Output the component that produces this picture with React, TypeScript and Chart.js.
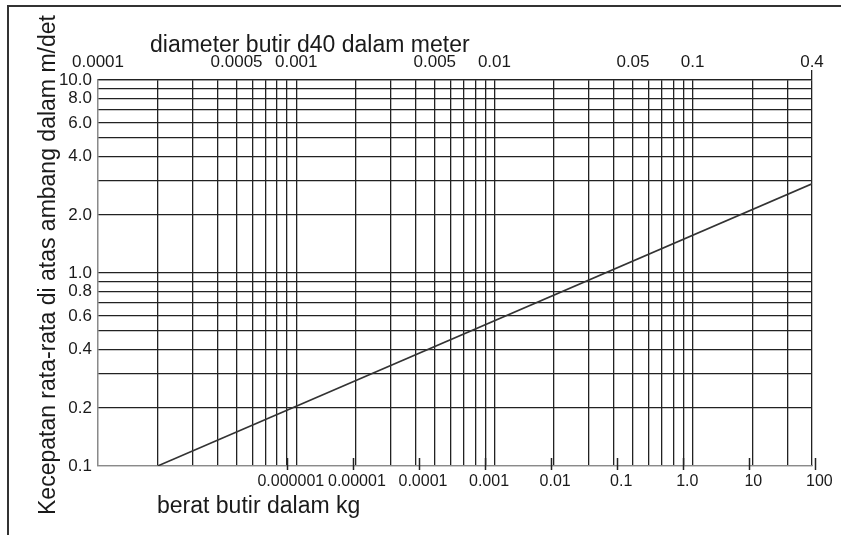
import React, { useEffect, useRef } from 'react';
import { Chart, registerables } from 'chart.js';

Chart.register(...registerables);

// ---- data ----
const DIAMETER_MIN = 0.0001;
const DIAMETER_MAX = 0.4;
const DIAMETER_TICKS = [0.0001, 0.0005, 0.001, 0.005, 0.01, 0.05, 0.1, 0.4];
const DIAMETER_LABELS = ['0.0001', '0.0005', '0.001', '0.005', '0.01', '0.05', '0.1', '0.4'];

const VELOCITY_MIN = 0.1;
const VELOCITY_MAX = 10;
const VELOCITY_TICKS = [0.1, 0.2, 0.4, 0.6, 0.8, 1, 2, 4, 6, 8, 10];
const VELOCITY_LABELS = ['0.1', '0.2', '0.4', '0.6', '0.8', '1.0', '2.0', '4.0', '6.0', '8.0', '10.0'];

const WEIGHT_TICKS = [0.000001, 0.00001, 0.0001, 0.001, 0.01, 0.1, 1, 10, 100];
const WEIGHT_LABELS = ['0.000001', '0.00001', '0.0001', '0.001', '0.01', '0.1', '1.0', '10', '100'];
const GRAIN_DENSITY = 2650; // kg/m3, sphere weight = rho * pi/6 * d^3

const LINE_DIAMETER = [0.0002, 0.4];
const LINE_VELOCITY = [0.1, 2.9];

const TITLE_TOP = 'diameter butir d40 dalam meter';
const TITLE_BOTTOM = 'berat butir dalam kg';
const TITLE_LEFT = 'Kecepatan rata-rata di atas ambang dalam m/det';

// ---- helpers ----
const FONT_FAMILY = '"Liberation Sans", Arial, Helvetica, sans-serif';
const GRID_DARK = '#222';
const AXIS_GRAY = '#8a8a8a';

const weightOf = (d: number) => (GRAIN_DENSITY * Math.PI) / 6 * Math.pow(d, 3);

function logGrid(min: number, max: number): number[] {
  const out: number[] = [];
  const e0 = Math.floor(Math.log10(min) + 1e-9);
  const e1 = Math.ceil(Math.log10(max) - 1e-9);
  for (let e = e0; e <= e1; e++) {
    for (let m = 1; m <= 9; m++) {
      const v = parseFloat((m * Math.pow(10, e)).toPrecision(8));
      if (v >= min * (1 - 1e-9) && v <= max * (1 + 1e-9)) out.push(v);
    }
  }
  return out;
}

const same = (a: number, b: number) => Math.abs(a - b) <= Math.abs(b) * 1e-6;
const labelFor = (v: number, ticks: number[], labels: string[]) => {
  const i = ticks.findIndex((t) => same(v, t));
  return i >= 0 ? labels[i] : '';
};

const decorPlugin = {
  id: 'decor',
  beforeDraw(chart: any) {
    const { ctx, width, height } = chart;
    ctx.save();
    ctx.fillStyle = '#fff';
    ctx.fillRect(0, 0, width, height);
    // page frame (left and top edges)
    ctx.strokeStyle = '#333';
    ctx.lineWidth = 2;
    ctx.beginPath();
    ctx.moveTo(8, height);
    ctx.lineTo(8, 6);
    ctx.lineTo(width, 6);
    ctx.stroke();
    ctx.restore();
  },
  afterDraw(chart: any) {
    const { ctx, chartArea } = chart;
    const xw = chart.scales.xw;
    ctx.save();
    // bottom weight tick marks
    ctx.strokeStyle = GRID_DARK;
    ctx.lineWidth = 1.5;
    for (const t of xw.ticks) {
      const x = Math.round(xw.getPixelForValue(t.value)) + 0.5;
      ctx.beginPath();
      ctx.moveTo(x, chartArea.bottom - 8);
      ctx.lineTo(x, chartArea.bottom + 4);
      ctx.stroke();
    }
    // titles
    ctx.fillStyle = '#1a1a1a';
    ctx.font = `23px ${FONT_FAMILY}`;
    ctx.textBaseline = 'alphabetic';
    ctx.textAlign = 'left';
    ctx.fillText(TITLE_TOP, chartArea.left + 52, chartArea.top - 28);
    ctx.fillText(TITLE_BOTTOM, chartArea.left + 59, chartArea.bottom + 47);
    ctx.translate(chartArea.left - 43, chartArea.bottom + 49);
    ctx.rotate(-Math.PI / 2);
    ctx.fillText(TITLE_LEFT, 0, 0);
    ctx.restore();
  },
};

export default function App() {
  const canvasRef = useRef<HTMLCanvasElement | null>(null);

  useEffect(() => {
    const canvas = canvasRef.current;
    if (!canvas) return;
    const xGrid = logGrid(DIAMETER_MIN, DIAMETER_MAX);
    const yGrid = logGrid(VELOCITY_MIN, VELOCITY_MAX);
    const tickFont = { family: FONT_FAMILY, size: 17 };

    const chart = new Chart(canvas, {
      type: 'scatter',
      data: {
        datasets: [
          {
            data: LINE_DIAMETER.map((d, i) => ({ x: d, y: LINE_VELOCITY[i] })),
            showLine: true,
            borderColor: '#333',
            borderWidth: 1.6,
            pointRadius: 0,
            xAxisID: 'x',
            yAxisID: 'y',
          },
        ],
      },
      options: {
        animation: false,
        responsive: false,
        events: [],
        layout: { padding: { left: 0, top: 0, right: 29, bottom: 0 } },
        plugins: {
          legend: { display: false },
          tooltip: { enabled: false },
          title: { display: false },
        },
        scales: {
          x: {
            type: 'logarithmic',
            position: 'top',
            min: DIAMETER_MIN,
            max: DIAMETER_MAX,
            afterBuildTicks: (s: any) => {
              s.ticks = xGrid.map((v) => ({ value: v }));
            },
            afterFit: (s: any) => {
              s.height = 80;
            },
            ticks: {
              autoSkip: false,
              maxRotation: 0,
              padding: -3,
              color: '#1a1a1a',
              font: tickFont,
              callback: (v: any) => labelFor(Number(v), DIAMETER_TICKS, DIAMETER_LABELS),
            },
            grid: {
              color: (c: any) => (c.tick && same(c.tick.value, DIAMETER_MIN) ? AXIS_GRAY : GRID_DARK),
              lineWidth: 1.3,
              drawTicks: true,
              tickLength: 10,
              tickColor: (c: any) => (c.tick && same(c.tick.value, DIAMETER_MAX) ? GRID_DARK : 'rgba(0,0,0,0)'),
              tickWidth: 1.3,
            },
            border: { display: true, color: GRID_DARK, width: 1.3 },
          },
          xw: {
            type: 'logarithmic',
            position: 'bottom',
            min: weightOf(DIAMETER_MIN),
            max: weightOf(DIAMETER_MAX),
            afterBuildTicks: (s: any) => {
              s.ticks = WEIGHT_TICKS.map((v) => ({ value: v }));
            },
            afterFit: (s: any) => {
              s.height = 69;
            },
            ticks: {
              autoSkip: false,
              maxRotation: 0,
              padding: 6,
              labelOffset: 4,
              color: '#1a1a1a',
              font: { family: FONT_FAMILY, size: 16 },
              callback: (v: any) => labelFor(Number(v), WEIGHT_TICKS, WEIGHT_LABELS),
            },
            grid: { display: false, drawTicks: false },
            border: { display: true, color: AXIS_GRAY, width: 1.3 },
          },
          y: {
            type: 'logarithmic',
            position: 'left',
            min: VELOCITY_MIN,
            max: VELOCITY_MAX,
            afterBuildTicks: (s: any) => {
              s.ticks = yGrid.map((v) => ({ value: v }));
            },
            afterFit: (s: any) => {
              s.width = 98;
            },
            ticks: {
              autoSkip: false,
              padding: 6,
              color: '#1a1a1a',
              font: tickFont,
              callback: (v: any) => labelFor(Number(v), VELOCITY_TICKS, VELOCITY_LABELS),
            },
            grid: {
              color: (c: any) => (c.tick && same(c.tick.value, VELOCITY_MIN) ? AXIS_GRAY : GRID_DARK),
              lineWidth: 1.3,
              drawTicks: false,
            },
            border: { display: true, color: AXIS_GRAY, width: 1.3 },
          },
        },
      },
      plugins: [decorPlugin],
    } as any);

    return () => chart.destroy();
  }, []);

  return (
    <div
      style={{
        position: 'fixed',
        left: 0,
        top: 0,
        width: 841,
        height: 535,
        overflow: 'hidden',
        background: '#fff',
      }}
    >
      <canvas ref={canvasRef} width={841} height={535} style={{ position: 'absolute', left: 0, top: 0 }} />
    </div>
  );
}
